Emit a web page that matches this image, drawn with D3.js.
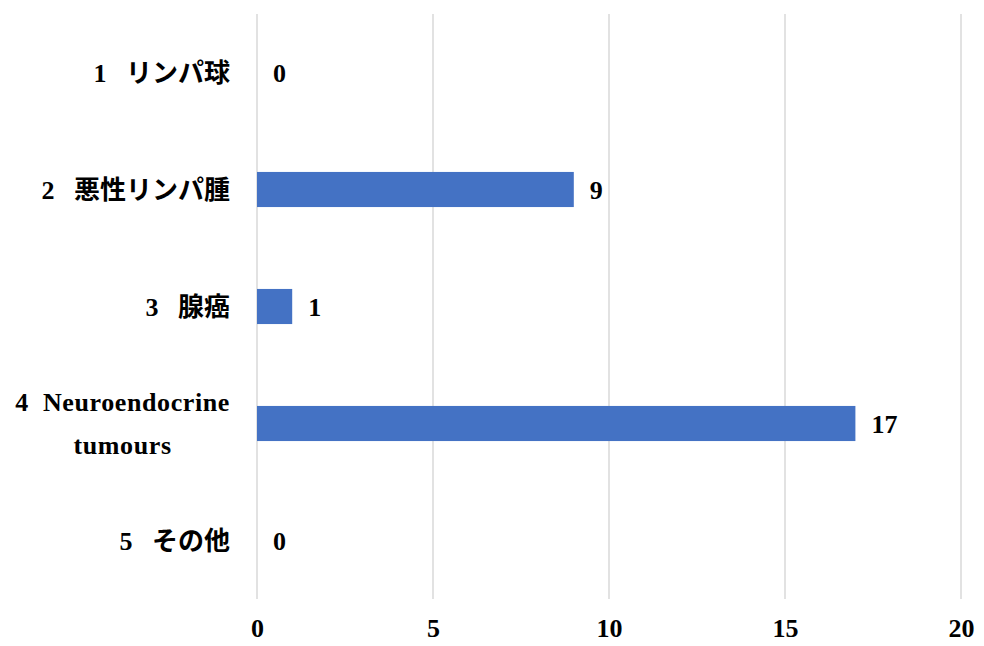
<!DOCTYPE html>
<html>
<head>
<meta charset="utf-8">
<script src="https://cdn.jsdelivr.net/npm/d3@7"></script>
<style>
  body { margin: 0; background: #fff; }
  text { font-family: "Liberation Serif", "DejaVu Serif", "Noto Sans CJK JP", serif; fill: #000; }
</style>
</head>
<body>
<div class="chart"></div>
<script>
// chart data
const categories = ["1   リンパ球", "2   悪性リンパ腫", "3   腺癌", "4  Neuroendocrine tumours", "5   その他"];
const labelLines = [["1   リンパ球"], ["2   悪性リンパ腫"], ["3   腺癌"], ["4  Neuroendocrine", "tumours"], ["5   その他"]];
const values = [0, 9, 1, 17, 0];
const xTicks = [0, 5, 10, 15, 20];

const width = 984, height = 646;
const margin = { top: 14, right: 23, bottom: 47, left: 257 };
const fontStack = '"Liberation Serif", "DejaVu Serif", "Noto Sans CJK JP", serif';

const svg = d3.select(".chart").append("svg")
  .attr("width", width)
  .attr("height", height);

const x = d3.scaleLinear()
  .domain([0, 20])
  .range([margin.left, margin.left + 704]);

const y = d3.scaleBand()
  .domain(categories)
  .range([margin.top, height - margin.bottom])
  .paddingInner(0.7)
  .paddingOuter(0.35);

// gridlines
svg.append("g")
  .selectAll("line")
  .data(xTicks)
  .join("line")
  .attr("x1", d => x(d))
  .attr("x2", d => x(d))
  .attr("y1", margin.top)
  .attr("y2", height - margin.bottom)
  .attr("stroke", "#d9d9d9")
  .attr("stroke-width", 1.5);

// x axis labels
const xAxis = svg.append("g")
  .attr("transform", `translate(0,${height - margin.bottom})`)
  .call(d3.axisBottom(x).tickValues(xTicks).tickSize(0).tickPadding(29));
xAxis.select(".domain").remove();
xAxis.attr("font-family", fontStack).attr("font-size", null);
xAxis.selectAll("text")
  .attr("dy", "0.35em")
  .style("font-size", "26px")
  .style("font-weight", "bold")
  .style("font-family", fontStack);

// bars
svg.append("g")
  .selectAll("rect")
  .data(values)
  .join("rect")
  .attr("x", x(0))
  .attr("y", (d, i) => y(categories[i]))
  .attr("width", d => x(d) - x(0))
  .attr("height", y.bandwidth())
  .attr("fill", "#4472c4");

// value labels
svg.append("g")
  .selectAll("text")
  .data(values)
  .join("text")
  .attr("x", d => x(d) + 16)
  .attr("y", (d, i) => y(categories[i]) + y.bandwidth() / 2)
  .attr("dy", "0.35em")
  .style("font-size", "26px")
  .style("font-weight", "bold")
  .style("font-family", fontStack)
  .text(d => d);

// category labels, second line centred under the first
const labels = svg.append("g");
labelLines.forEach((lines, i) => {
  const cy = y(categories[i]) + y.bandwidth() / 2;
  const lineH = 43;
  const top = cy - (lines.length - 1) * lineH / 2;
  const first = labels.append("text")
    .attr("x", 230)
    .attr("y", top)
    .attr("dy", "0.35em")
    .attr("text-anchor", "end")
    .attr("xml:space", "preserve")
    .style("font-size", "26px")
    .style("font-weight", "bold")
    .style("letter-spacing", lines.length > 1 ? "0.6px" : null)
    .style("font-family", fontStack)
    .style("white-space", "pre")
    .text(lines[0]);
  const w = first.node().getComputedTextLength();
  lines.slice(1).forEach((ln, j) => {
    labels.append("text")
      .attr("x", 230 - w / 2)
      .attr("y", top + (j + 1) * lineH)
      .attr("dy", "0.35em")
      .attr("text-anchor", "middle")
      .style("font-size", "26px")
      .style("font-weight", "bold")
      .style("letter-spacing", "0.6px")
      .style("font-family", fontStack)
      .text(ln);
  });
});
</script>
</body>
</html>
